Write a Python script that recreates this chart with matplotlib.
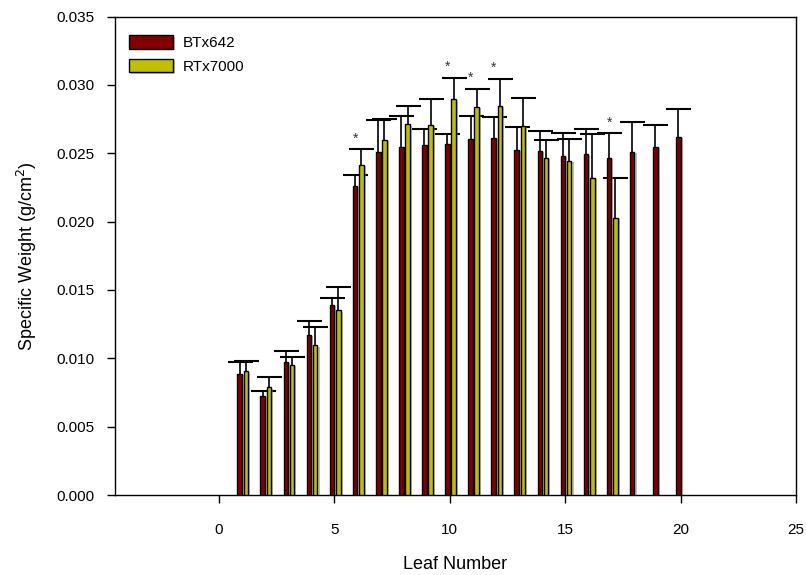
import numpy as np
import matplotlib
matplotlib.use("Agg")
import matplotlib.pyplot as plt
import matplotlib.patheffects as pe

plt.rcParams['font.family'] = ['Liberation Sans', 'DejaVu Sans']

# Specific leaf weight by leaf number for the two lines
leaf = np.arange(1, 21)
bt_mean = [0.00888, 0.00725, 0.00973, 0.01174, 0.01391, 0.02260, 0.02512, 0.02547, 0.02561, 0.02568,
           0.02604, 0.02612, 0.02526, 0.02517, 0.02482, 0.02494, 0.02468, 0.02509, 0.02548, 0.02619]
bt_err = [0.00086, 0.00037, 0.00082, 0.00100, 0.00047, 0.00081, 0.00229, 0.00226, 0.00114, 0.00070,
          0.00171, 0.00151, 0.00163, 0.00143, 0.00164, 0.00186, 0.00178, 0.00222, 0.00159, 0.00202]

rt_leaf = np.arange(1, 18)
rt_mean = [0.00908, 0.00789, 0.00951, 0.01096, 0.01352, 0.02414, 0.02597, 0.02711, 0.02707, 0.02897,
           0.02839, 0.02846, 0.02700, 0.02465, 0.02443, 0.02319, 0.02026]
rt_err = [0.00076, 0.00077, 0.00059, 0.00134, 0.00173, 0.00114, 0.00156, 0.00132, 0.00190, 0.00156,
          0.00134, 0.00200, 0.00205, 0.00134, 0.00164, 0.00319, 0.00295]

# leaves where the two lines differ significantly
sig_leaf = [6, 10, 11, 12, 17]

bar_w = 0.2
shadow = [pe.SimplePatchShadow(offset=(1.5, -1.0), shadow_rgbFace='gray', alpha=0.5), pe.Normal()]

fig = plt.figure(figsize=(8.06, 5.75), dpi=100)
ax = fig.add_axes([0.1427, 0.1391, 0.845, 0.832])

ax.bar(leaf - 0.1, bt_mean, width=bar_w, color='#800000', edgecolor='black', linewidth=1,
       label='BTx642', zorder=3, path_effects=shadow)
ax.bar(rt_leaf + 0.17, rt_mean, width=bar_w, color='#bfbf00', edgecolor='black', linewidth=1,
       label='RTx7000', zorder=3, path_effects=shadow)


def upper_errbars(x, mean, err):
    # one-sided error bars: stem from the bar top, cap only at the upper end
    _, caps, _ = ax.errorbar(x, mean, yerr=[np.zeros(len(err)), err], fmt='none',
                             ecolor='black', elinewidth=1.2, capsize=9, capthick=1.5, zorder=2)
    caps[0].set_visible(False)


upper_errbars(leaf - 0.1, bt_mean, bt_err)
upper_errbars(rt_leaf + 0.17, rt_mean, rt_err)

# asterisks over significant leaves
for lf in sig_leaf:
    top = bt_mean[lf - 1] + bt_err[lf - 1]
    if lf <= len(rt_mean):
        top = max(top, rt_mean[lf - 1] + rt_err[lf - 1])
    ax.text(lf - 0.1, top + 0.0008, '*', ha='center', va='center', fontsize=10, color='#333333')

ax.set_xlim(-4.5, 25)
ax.set_ylim(0, 0.035)
ax.set_xticks(range(0, 26, 5))
ax.set_yticks(np.arange(0, 0.0351, 0.005))
ax.yaxis.set_major_formatter(plt.FormatStrFormatter('%.3f'))
ax.tick_params(axis='both', direction='out', length=6, width=1, labelsize=11)
ax.tick_params(axis='x', pad=14)
ax.tick_params(axis='y', pad=9)
for s in ax.spines.values():
    s.set_linewidth(1)

ax.set_xlabel('Leaf Number', fontsize=13, labelpad=14)
ax.set_ylabel('Specific Weight (g/cm$^2$)', fontsize=13, labelpad=12)

ax.legend(loc='upper left', bbox_to_anchor=(0.0, 0.99), frameon=False, fontsize=11,
          handlelength=2.9, handleheight=1.0, handletextpad=0.65, labelspacing=0.55)

plt.savefig('out.png', dpi=100)
